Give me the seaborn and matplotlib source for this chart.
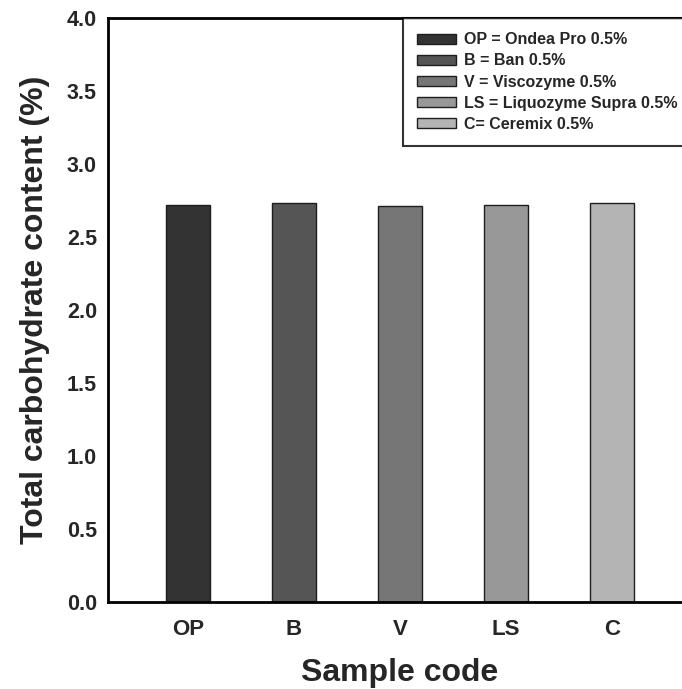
import matplotlib
matplotlib.use("Agg")
import matplotlib.pyplot as plt
import seaborn as sns
import pandas as pd
from matplotlib.patches import Patch

categories = ["OP", "B", "V", "LS", "C"]
values = [2.72, 2.73, 2.71, 2.72, 2.73]
legend_labels = ["OP = Ondea Pro 0.5%", "B = Ban 0.5%", "V = Viscozyme 0.5%",
                 "LS = Liquozyme Supra 0.5%", "C= Ceremix 0.5%"]
colors = ["#333333", "#555555", "#767676", "#989898", "#b4b4b4"]
yticks = [0.0, 0.5, 1.0, 1.5, 2.0, 2.5, 3.0, 3.5, 4.0]

sns.set_style("white")
plt.rcParams["font.family"] = ["Liberation Sans", "DejaVu Sans"]

df = pd.DataFrame({"code": categories, "value": values})

fig = plt.figure(figsize=(6.82, 6.89), dpi=100)
ax = fig.add_axes([108/682, 87/689, 584/682, 584/689])

sns.barplot(data=df, x="code", y="value", hue="code", palette=colors,
            order=categories, hue_order=categories, dodge=False, legend=False,
            width=0.41, edgecolor="#1e1e1e", linewidth=1.0, ax=ax)

ax.set_xlim(-0.755, 4.755)
ax.set_ylim(0, 4.0)
ax.set_yticks(yticks)
ax.set_yticklabels([f"{t:.1f}" for t in yticks], fontsize=15.5, fontweight="bold")
ax.set_xticks(range(len(categories)))
ax.set_xticklabels(categories, fontsize=16, fontweight="bold")
ax.tick_params(axis="y", direction="in", length=7, width=1.5, pad=8)
ax.tick_params(axis="x", length=0, pad=12)

ax.set_xlabel("Sample code", fontsize=23, fontweight="bold", labelpad=13)
ax.set_ylabel("Total carbohydrate content (%)", fontsize=23, fontweight="bold", labelpad=12)

for s in ["left", "bottom", "top", "right"]:
    ax.spines[s].set_visible(True)
    ax.spines[s].set_color("black")
    ax.spines[s].set_linewidth(2)

handles = [Patch(facecolor=c, edgecolor="#1e1e1e", linewidth=1.0) for c in colors]
leg = ax.legend(handles, legend_labels, loc="upper left", bbox_to_anchor=(0.505, 1.0),
                borderaxespad=0, fancybox=False, frameon=True,
                prop={"weight": "bold", "size": 11.5}, handlelength=2.4,
                handleheight=0.62, labelspacing=0.38, handletextpad=0.5,
                borderpad=0.9)
leg.get_frame().set_edgecolor("black")
leg.get_frame().set_linewidth(1.5)

fig.savefig("out.png", dpi=100)
